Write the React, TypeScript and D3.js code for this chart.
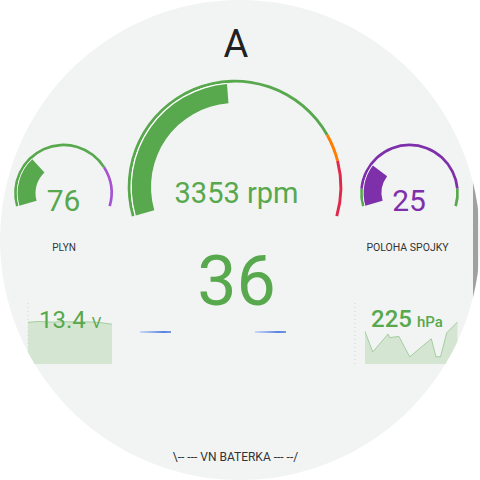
import React from "react";
import * as d3 from "d3";

// ---------- data ----------
const TITLE = "A";
const FOOTER = "\\-- --- VN BATERKA --- --/";

const rpmValue = 3353;
const rpmUnit = "rpm";
const rpmDomain = [0, 7000];
const rpmSegments = [0, 5500, 6000, 7000];

const speedValue = 36;

const throttleLabel = "PLYN";
const throttleValue = 76;
const throttleDomain = [0, 255];
const throttleSegments = [0, 197, 255];

const clutchLabel = "POLOHA SPOJKY";
const clutchValue = 25;
const clutchDomain = [0, 100];
const clutchSegments = [0, 10, 90, 100];

const voltageValue = 13.4;
const voltageUnit = "V";
const voltageTimes = [0, 8, 17, 26, 34, 43, 51, 60];
const voltageValues = [13.43, 13.48, 13.44, 13.47, 13.45, 13.46, 13.42, 13.32];
const voltageDomain = [11, 14.5];

const pressureValue = 225;
const pressureUnit = "hPa";
const pressureTimes = [0, 5, 15, 16, 22, 29, 43, 46, 49, 53, 60];
const pressureValues = [217, 200, 215, 212, 213, 196, 211, 196, 196, 216, 225];
const pressureDomain = [190, 240];

const timeDomain = [0, 60];

// ---------- styles ----------
const GREEN = "#58a84d";
const ORANGE = "#ff7c00";
const RED = "#e0284b";
const PURPLE = "#7e30aa";
const LIGHT_PURPLE = "#a553d2";
const BG = "#f2f4f4";
const FONT = "Roboto, 'Noto Sans', sans-serif";
const SPAN = (106 * Math.PI) / 180;

type GaugeProps = {
  cx: number;
  cy: number;
  ringInner: number;
  ringOuter: number;
  bandInner: number;
  bandOuter: number;
  domain: number[];
  segments: number[];
  segColors: string[];
  value: number;
  bandColor: string;
};

function Gauge(p: GaugeProps) {
  const a = d3.scaleLinear().domain(p.domain).range([-SPAN, SPAN]).clamp(true);
  const ring = d3.arc<any>().innerRadius(p.ringInner).outerRadius(p.ringOuter);
  const band = d3.arc<any>().innerRadius(p.bandInner).outerRadius(p.bandOuter);
  const gap = d3.arc<any>().innerRadius(p.bandOuter).outerRadius(p.ringInner);
  const segs = p.segments.slice(0, -1).map((s, i) => ({
    startAngle: a(s),
    endAngle: a(p.segments[i + 1]),
    color: p.segColors[i],
  }));
  const va = a(p.value);
  return (
    <g transform={`translate(${p.cx},${p.cy})`}>
      {segs.map((s, i) => (
        <path key={i} d={ring(s as any) as string} fill={s.color} />
      ))}
      <path d={gap({ startAngle: -SPAN, endAngle: va } as any) as string} fill="#ffffff" />
      <path d={band({ startAngle: -SPAN, endAngle: va } as any) as string} fill={p.bandColor} />
    </g>
  );
}

function Spark({
  times,
  values,
  domain,
  x0,
  x1,
}: {
  times: number[];
  values: number[];
  domain: number[];
  x0: number;
  x1: number;
}) {
  const x = d3.scaleLinear().domain(timeDomain).range([x0, x1]);
  const y = d3.scaleLinear().domain(domain).range([364, 304]);
  const pts = times.map((t, i) => [t, values[i]] as [number, number]);
  const area = d3
    .area<[number, number]>()
    .x((d) => x(d[0]))
    .y0(364)
    .y1((d) => y(d[1]));
  const line = d3
    .line<[number, number]>()
    .x((d) => x(d[0]))
    .y((d) => y(d[1]));
  return (
    <g>
      <path d={area(pts) as string} fill="#d4e6d2" />
      <path d={line(pts) as string} fill="none" stroke="#a3cd9f" strokeWidth={1} />
    </g>
  );
}

export default function App() {
  const W = 480;
  return (
    <svg
      width={W}
      height={W}
      style={{ position: "fixed", left: 0, top: 0, background: "#ffffff" }}
      fontFamily={FONT}
    >
      <defs>
        <clipPath id="circ">
          <circle cx={240} cy={240} r={240} />
        </clipPath>
        <linearGradient id="blueFade" x1="0" x2="1" y1="0" y2="0">
          <stop offset="0" stopColor="#5b8cf0" stopOpacity={0.35} />
          <stop offset="0.75" stopColor="#3366dd" stopOpacity={1} />
          <stop offset="1" stopColor="#3366dd" stopOpacity={0.8} />
        </linearGradient>
      </defs>
      <circle cx={240} cy={240} r={240} fill={BG} />
      <g clipPath="url(#circ)">
        <rect x={473} y={150} width={5} height={180} fill="#a0a0a0" />

        {/* sparklines */}
        <line x1={28} x2={28} y1={303} y2={364} stroke="#d0d4d4" strokeDasharray="1 3" />
        <line x1={355} x2={355} y1={303} y2={364} stroke="#d0d4d4" strokeDasharray="1 3" />
        <Spark times={voltageTimes} values={voltageValues} domain={voltageDomain} x0={28} x1={112} />
        <Spark times={pressureTimes} values={pressureValues} domain={pressureDomain} x0={365} x1={457.5} />

        <text x={39} y={328} fill={GREEN} fontSize={24}>
          {voltageValue.toFixed(1)}
          <tspan dx={6} fontSize={15}>{voltageUnit}</tspan>
        </text>
        <text x={371} y={327} fill={GREEN} fontSize={24} fontWeight={500}>
          {pressureValue}
          <tspan dx={5} fontSize={15}>{pressureUnit}</tspan>
        </text>

        {/* blue lines */}
        <rect x={140} y={331.2} width={31} height={1.6} fill="url(#blueFade)" />
        <rect x={255} y={331.2} width={31} height={1.6} fill="url(#blueFade)" />
      </g>

      <text x={236} y={57} textAnchor="middle" fontSize={38} fill="#212121">
        {TITLE}
      </text>

      <Gauge
        cx={235}
        cy={187}
        ringInner={104.4}
        ringOuter={107.3}
        bandInner={84}
        bandOuter={103.2}
        domain={rpmDomain}
        segments={rpmSegments}
        segColors={[GREEN, ORANGE, RED]}
        value={rpmValue}
        bandColor={GREEN}
      />
      <text x={236.5} y={203} textAnchor="middle" fontSize={29} fill={GREEN}>
        {`${rpmValue} ${rpmUnit}`}
      </text>

      <text x={236.5} y={305} textAnchor="middle" fontSize={70} fill={GREEN}>
        {speedValue}
      </text>

      <Gauge
        cx={63.5}
        cy={193}
        ringInner={46.7}
        ringOuter={49.4}
        bandInner={28}
        bandOuter={45.9}
        domain={throttleDomain}
        segments={throttleSegments}
        segColors={[GREEN, LIGHT_PURPLE]}
        value={throttleValue}
        bandColor={GREEN}
      />
      <text x={63.5} y={211} textAnchor="middle" fontSize={30} fill={GREEN}>
        {throttleValue}
      </text>
      <text x={64} y={251} textAnchor="middle" fontSize={10} fill="#333">
        {throttleLabel}
      </text>

      <Gauge
        cx={409.5}
        cy={193}
        ringInner={46.7}
        ringOuter={49.4}
        bandInner={28}
        bandOuter={45.9}
        domain={clutchDomain}
        segments={clutchSegments}
        segColors={[GREEN, PURPLE, GREEN]}
        value={clutchValue}
        bandColor={PURPLE}
      />
      <text x={409} y={211} textAnchor="middle" fontSize={30} fill={PURPLE}>
        {clutchValue}
      </text>
      <text x={407.5} y={251} textAnchor="middle" fontSize={10.5} fill="#333">
        {clutchLabel}
      </text>

      <text x={235.5} y={461} textAnchor="middle" fontSize={12} fill="#333">
        {FOOTER}
      </text>
    </svg>
  );
}
